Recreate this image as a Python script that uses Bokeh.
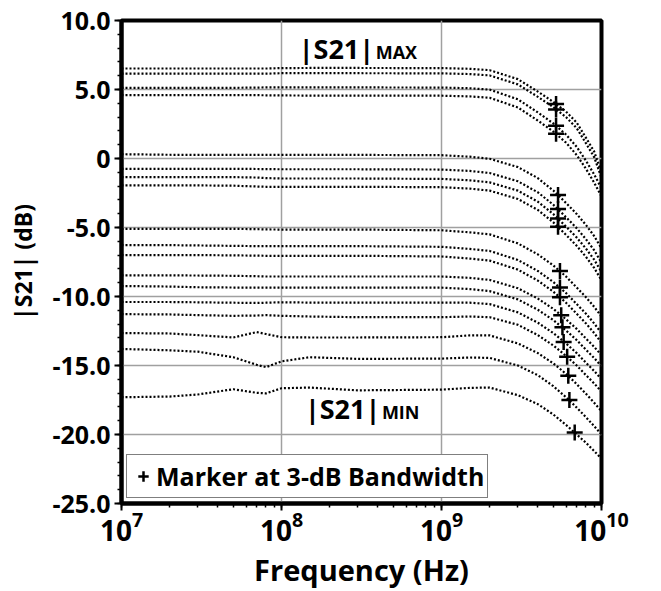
from bokeh.plotting import figure
from bokeh.models import (Legend, LegendItem, SingleIntervalTicker,
                          LogTicker, CustomJSTickFormatter)
from bokeh.core.properties import value
from bokeh.embed import file_html
from bokeh.resources import INLINE

# ---------------- data ----------------
freq_hz = [1e7, 2e7, 3e7, 5e7, 7e7, 8e7, 1e8, 1.5e8, 3e8, 1e9,
           1.5e9, 2e9, 3e9, 4e9, 5e9, 6e9, 7e9, 8e9, 9e9, 1e10]

s21_01 = [6.52, 6.52, 6.52, 6.52, 6.52, 6.52, 6.55, 6.56, 6.56, 6.55,
          6.50, 6.40, 5.75, 4.85, 4.10, 3.40, 2.60, 1.50, 0.50, -1.00]
s21_02 = [6.15, 6.15, 6.15, 6.15, 6.15, 6.15, 6.18, 6.18, 6.18, 6.17,
          6.12, 6.02, 5.37, 4.47, 3.72, 3.00, 2.20, 1.10, 0.10, -1.40]
s21_03 = [5.12, 5.12, 5.12, 5.12, 5.14, 5.15, 5.15, 5.15, 5.15, 5.14,
          5.09, 4.99, 4.29, 3.34, 2.54, 1.74, 0.84, -0.16, -1.16, -2.16]
s21_04 = [4.59, 4.59, 4.59, 4.59, 4.59, 4.58, 4.57, 4.56, 4.56, 4.55,
          4.50, 4.40, 3.70, 2.75, 1.95, 1.15, 0.25, -0.75, -1.75, -2.75]
s21_05 = [0.31, 0.27, 0.26, 0.26, 0.26, 0.26, 0.26, 0.26, 0.26, 0.24,
          0.13, -0.02, -0.62, -1.42, -2.32, -3.22, -4.02, -4.82, -5.62, -6.52]
s21_06 = [-0.75, -0.75, -0.75, -0.75, -0.76, -0.77, -0.78, -0.78, -0.78, -0.80,
          -0.90, -1.05, -1.65, -2.45, -3.35, -4.25, -5.05, -5.85, -6.65, -7.55]
s21_07 = [-1.35, -1.35, -1.35, -1.35, -1.38, -1.42, -1.45, -1.45, -1.45, -1.48,
          -1.58, -1.73, -2.33, -3.13, -4.03, -4.93, -5.73, -6.53, -7.33, -8.23]
s21_08 = [-1.95, -1.95, -1.95, -1.97, -2.03, -2.05, -2.05, -2.05, -2.05, -2.08,
          -2.18, -2.33, -2.93, -3.73, -4.63, -5.53, -6.33, -7.13, -7.93, -8.83]
s21_09 = [-5.10, -5.10, -5.10, -5.10, -5.12, -5.14, -5.15, -5.15, -5.15, -5.20,
          -5.35, -5.50, -6.15, -6.95, -7.75, -8.55, -9.35, -10.05, -10.75, -11.45]
s21_10 = [-6.28, -6.28, -6.30, -6.33, -6.35, -6.35, -6.35, -6.35, -6.35, -6.40,
          -6.55, -6.70, -7.35, -8.15, -8.95, -9.75, -10.55, -11.25, -11.95, -12.65]
s21_11 = [-7.00, -7.00, -7.00, -7.02, -7.04, -7.05, -7.05, -7.05, -7.05, -7.10,
          -7.25, -7.40, -8.05, -8.85, -9.65, -10.45, -11.25, -11.95, -12.65, -13.35]
s21_12 = [-8.47, -8.47, -8.48, -8.50, -8.53, -8.55, -8.55, -8.55, -8.55, -8.55,
          -8.65, -8.80, -9.40, -10.15, -10.90, -11.65, -12.35, -13.05, -13.65, -14.25]
s21_13 = [-9.24, -9.28, -9.33, -9.35, -9.35, -9.35, -9.35, -9.36, -9.36, -9.36,
          -9.46, -9.61, -10.21, -10.96, -11.71, -12.46, -13.16, -13.86, -14.46, -15.06]
s21_14 = [-10.40, -10.40, -10.42, -10.45, -10.47, -10.45, -10.42, -10.44, -10.45, -10.45,
          -10.45, -10.55, -11.15, -11.90, -12.65, -13.40, -14.10, -14.80, -15.40, -16.00]
s21_15 = [-11.28, -11.30, -11.35, -11.40, -11.38, -11.35, -11.40, -11.45, -11.50, -11.50,
          -11.45, -11.50, -12.05, -12.80, -13.55, -14.30, -15.00, -15.70, -16.30, -16.90]
s21_16 = [-12.65, -12.68, -12.80, -12.97, -12.58, -12.72, -12.95, -12.97, -12.97, -12.95,
          -12.82, -12.82, -13.40, -14.10, -14.85, -15.60, -16.35, -17.05, -17.70, -18.30]
s21_17 = [-13.80, -13.90, -14.00, -14.40, -14.95, -15.12, -14.70, -14.40, -14.52, -14.50,
          -14.42, -14.45, -15.00, -15.70, -16.50, -17.30, -18.05, -18.75, -19.40, -20.00]
s21_18 = [-17.30, -17.25, -17.10, -16.72, -16.98, -17.02, -16.65, -16.60, -16.80, -16.75,
          -16.62, -16.60, -17.15, -17.80, -18.55, -19.30, -20.00, -20.60, -21.20, -21.75]

all_curves = [s21_01, s21_02, s21_03, s21_04, s21_05, s21_06, s21_07, s21_08, s21_09,
              s21_10, s21_11, s21_12, s21_13, s21_14, s21_15, s21_16, s21_17, s21_18]

# 3-dB bandwidth markers
marker_freq_hz = [5.2e9, 5.2e9, 5.2e9, 5.2e9, 5.35e9, 5.35e9, 5.35e9, 5.35e9,
                  5.5e9, 5.5e9, 5.5e9, 5.6e9, 5.7e9, 5.8e9, 6.1e9, 6.2e9, 6.3e9, 6.8e9]
marker_db = [3.95, 3.55, 2.38, 1.79, -2.64, -3.66, -4.34, -4.95,
             -8.15, -9.35, -10.05, -11.35, -12.22, -13.30, -14.37, -15.75, -17.50, -19.85]

# annotation texts
note_main = ["|S21|", "|S21|"]
note_sub = ["MAX", "MIN"]
note_freq = [1.28e8, 1.40e8]
note_db = [7.95, -18.12]

FONT = "Open Sans"

p = figure(width=661, height=591, x_axis_type="log",
           x_range=(1e7, 1e10), y_range=(-25, 10),
           output_backend="svg", toolbar_location=None,
           min_border_left=121, min_border_right=60,
           min_border_top=20, min_border_bottom=86,
           background_fill_color="white", border_fill_color="white")

p.outline_line_color = "black"
p.outline_line_width = 4

for vals in all_curves:
    p.line(freq_hz, vals, line_color="black", line_width=2.2, line_dash="2 2")

mk = p.scatter(marker_freq_hz, marker_db, marker="cross", size=16,
               line_color="black", line_width=2.5)

# axes
p.yaxis.ticker = SingleIntervalTicker(interval=5, num_minor_ticks=5)
p.yaxis.formatter = CustomJSTickFormatter(code="return tick == 0 ? '0' : tick.toFixed(1);")
p.xaxis.ticker = LogTicker(num_minor_ticks=10)

for ax in (p.xaxis, p.yaxis):
    ax.axis_line_color = "black"
    ax.axis_line_width = 4
    ax.major_tick_in = 0
    ax.major_tick_out = 7
    ax.minor_tick_in = 0
    ax.minor_tick_out = 4
    ax.major_tick_line_width = 2
    ax.minor_tick_line_width = 1.5
    ax.major_tick_line_color = "black"
    ax.minor_tick_line_color = "black"
    ax.major_label_text_font = FONT
    ax.major_label_text_font_style = "bold"
    ax.major_label_text_color = "black"
    ax.axis_label_text_font = FONT
    ax.axis_label_text_font_style = "bold"
    ax.axis_label_text_color = "black"

p.yaxis.major_label_standoff = 4
p.yaxis.major_label_text_font_size = "25px"
p.yaxis.axis_label = "|S21| (dB)"
p.yaxis.axis_label_text_font_size = "23px"
p.yaxis.axis_label_standoff = 10

p.xaxis.major_label_standoff = 0
p.xaxis.major_label_text_font_size = "28px"
p.xaxis.axis_label = "Frequency (Hz)"
p.xaxis.axis_label_text_font_size = "29px"
p.xaxis.axis_label_standoff = 6

p.xgrid.grid_line_color = "#A0A0A0"
p.ygrid.grid_line_color = "#A0A0A0"
p.xgrid.grid_line_width = 1.5
p.ygrid.grid_line_width = 1.5

# |S21| MAX / MIN annotations
p.text(x=note_freq, y=note_db, text=note_main, text_font=value(FONT),
       text_font_style="bold", text_font_size="27px", text_color="black",
       text_baseline="middle", text_align="left")
p.text(x=note_freq, y=note_db, text=note_sub, x_offset=77, y_offset=3.5,
       text_font=value(FONT), text_font_style="bold", text_font_size="18px",
       text_color="black", text_baseline="middle", text_align="left")

legend = Legend(items=[LegendItem(label="Marker at 3-dB Bandwidth", renderers=[mk])],
                location=(5, 5), margin=0, padding=3, spacing=0,
                glyph_width=26, glyph_height=36, label_standoff=0,
                label_text_font=FONT, label_text_font_style="bold",
                label_text_font_size="25px", label_text_color="black",
                border_line_color="black", border_line_width=1.5,
                background_fill_color="white", background_fill_alpha=1)
p.add_layout(legend)

open("out.html", "w").write(file_html(p, INLINE))
